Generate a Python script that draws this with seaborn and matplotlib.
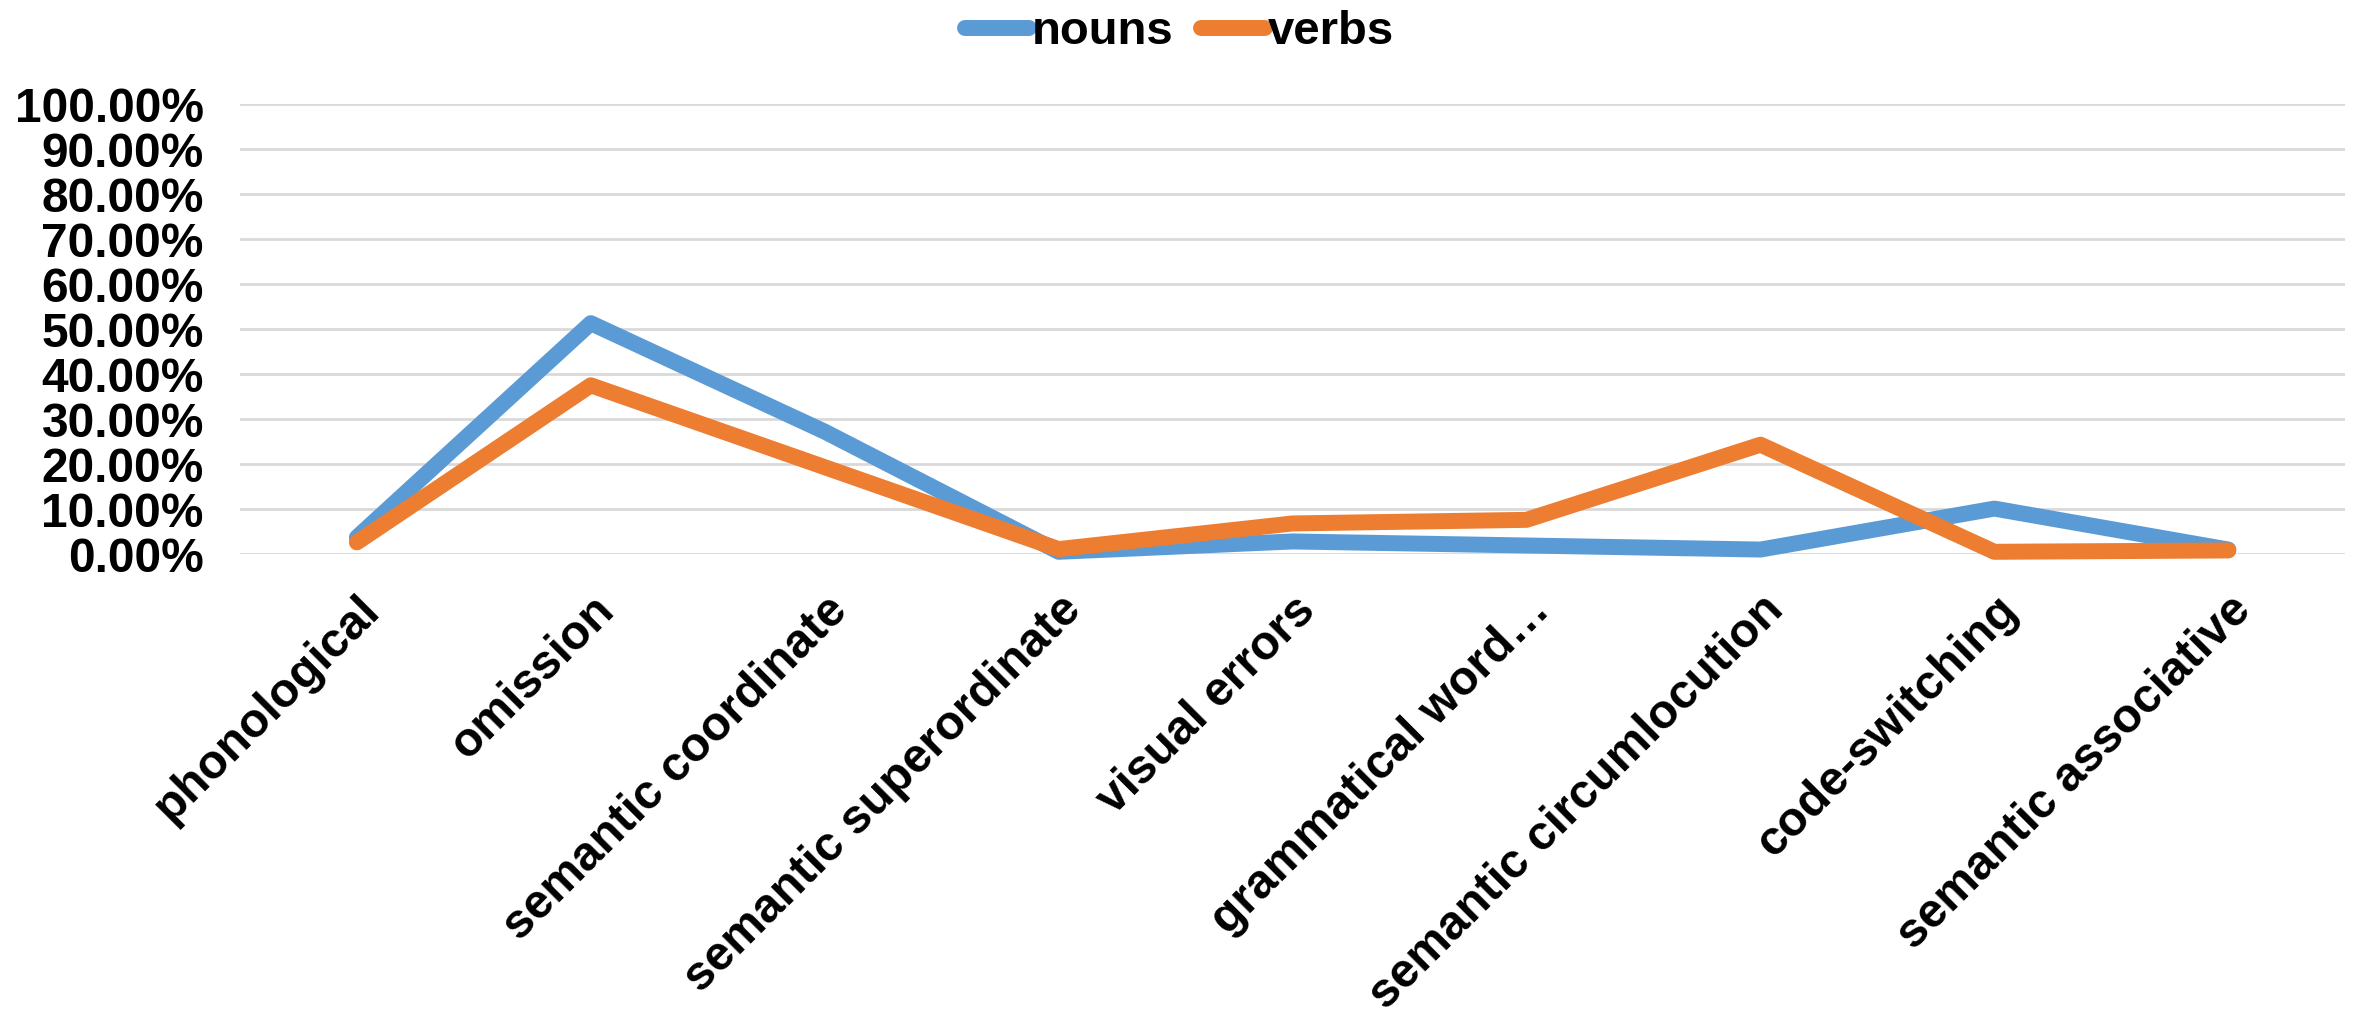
import matplotlib
matplotlib.use("Agg")
import matplotlib.pyplot as plt
from matplotlib.ticker import PercentFormatter, MultipleLocator
import seaborn as sns
import pandas as pd

# Error categories and the share of each error type, per word class
categories = [
    "phonological",
    "omission",
    "semantic coordinate",
    "semantic superordinate",
    "visual errors",
    "grammatical word…",
    "semantic circumlocution",
    "code-switching",
    "semantic associative",
]
nouns = [0.037, 0.513, 0.272, 0.005, 0.028, 0.019, 0.010, 0.101, 0.010]
verbs = [0.026, 0.375, 0.193, 0.011, 0.068, 0.076, 0.243, 0.005, 0.008]
series_names = ["nouns", "verbs"]
colors = ["#5B9BD5", "#ED7D31"]

df = pd.DataFrame({
    "category": categories * 2,
    "pos": list(range(len(categories))) * 2,
    "value": nouns + verbs,
    "series": [series_names[0]] * len(categories) + [series_names[1]] * len(categories),
})

sns.set_style("white")
plt.rcParams["font.family"] = ["Liberation Sans", "DejaVu Sans"]
plt.rcParams["font.weight"] = "bold"
plt.rcParams["text.color"] = "black"
plt.rcParams["xtick.color"] = "black"
plt.rcParams["ytick.color"] = "black"

fig = plt.figure(figsize=(23.59, 10.14), dpi=100)
ax = fig.add_axes([0.1017, 0.4536, 0.8925, 0.4438])

sns.lineplot(
    data=df, x="pos", y="value", hue="series",
    palette=dict(zip(series_names, colors)),
    linewidth=11.5, ax=ax, sort=False,
    solid_capstyle="round", solid_joinstyle="round",
)
for line in ax.lines:
    line.set_clip_on(False)
    line.set_zorder(3)

ax.set_xlim(-0.5, len(categories) - 0.5)
ax.set_ylim(0, 1.0)
ax.yaxis.set_major_locator(MultipleLocator(0.1))
ax.yaxis.set_major_formatter(PercentFormatter(xmax=1, decimals=2))
ax.set_xticks(range(len(categories)))
ax.set_xticklabels(categories, rotation=45, ha="right", rotation_mode="anchor")
ax.tick_params(axis="both", length=0, labelsize=34.5, labelcolor="black")
ax.tick_params(axis="x", pad=24)
ax.tick_params(axis="y", pad=26)
for lab in ax.get_xticklabels() + ax.get_yticklabels():
    lab.set_fontweight("bold")

ax.grid(axis="y", color="#D9D9D9", linewidth=2)
ax.grid(axis="x", visible=False)
ax.set_axisbelow(True)
for s in ax.spines.values():
    s.set_visible(False)
ax.set_xlabel("")
ax.set_ylabel("")

handles, labels = ax.get_legend_handles_labels()
ax.legend_.remove()
leg = fig.legend(
    handles, labels, loc="center", bbox_to_anchor=(0.5, 0.968), ncol=2,
    frameon=False, prop={"size": 34, "weight": "bold"},
    handlelength=1.35, handletextpad=0.05, columnspacing=0.6,
)
for h in leg.get_lines():
    h.set_linewidth(11.5)
    h.set_solid_capstyle("round")
for t in leg.get_texts():
    t.set_color("black")

fig.savefig("out.png", dpi=100)
